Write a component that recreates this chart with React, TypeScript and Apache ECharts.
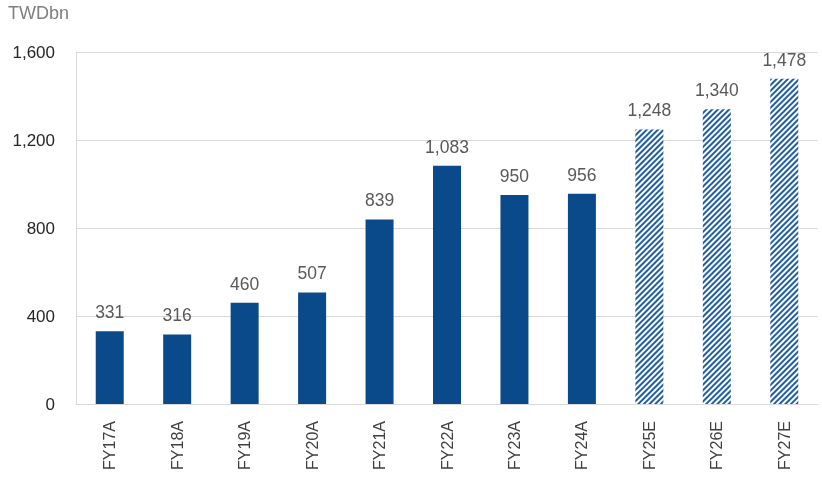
import React, { useEffect, useRef } from "react";
import * as echarts from "echarts";

const categories = ["FY17A", "FY18A", "FY19A", "FY20A", "FY21A", "FY22A", "FY23A", "FY24A", "FY25E", "FY26E", "FY27E"];
const values = [331, 316, 460, 507, 839, 1083, 950, 956, 1248, 1340, 1478];
const isEstimate = [false, false, false, false, false, false, false, false, true, true, true];
const yTicks = [0, 400, 800, 1200, 1600];
const unitLabel = "TWDbn";

const SOLID = "#0b4a8a";
const HATCH = "#1f5ea3";
const FONT = "Liberation Sans, Arial, sans-serif";

export default function App() {
  const ref = useRef<HTMLDivElement>(null);
  useEffect(() => {
    if (!ref.current) return;
    const chart = echarts.init(ref.current, undefined, { renderer: "svg" });
    const data = values.map((v, i) =>
      isEstimate[i]
        ? {
            value: v,
            itemStyle: {
              color: "#ffffff",
              decal: {
                symbol: "rect",
                symbolSize: 1,
                dashArrayX: [1, 0],
                dashArrayY: [1.5, 1.5],
                rotation: -Math.PI / 4,
                color: HATCH,
              },
            },
          }
        : { value: v, itemStyle: { color: SOLID } }
    );
    chart.setOption({
      animation: false,
      grid: { left: 76, right: 4, top: 52, bottom: 79, containLabel: false },
      graphic: [
        {
          type: "text",
          left: 8,
          top: 4,
          style: { text: unitLabel, fill: "#7f7f7f", fontSize: 18, fontFamily: FONT },
        },
      ],
      xAxis: {
        type: "category",
        data: categories,
        axisLine: { show: true, lineStyle: { color: "#d9d9d9", width: 1 } },
        axisTick: { show: false },
        axisLabel: {
          rotate: 90,
          color: "#404040",
          fontSize: 16,
          margin: 17,
          fontFamily: FONT,
        },
      },
      yAxis: {
        type: "value",
        min: yTicks[0],
        max: yTicks[yTicks.length - 1],
        interval: 400,
        axisLine: { show: true, lineStyle: { color: "#d9d9d9", width: 1 } },
        axisTick: { show: false },
        splitLine: { show: true, lineStyle: { color: "#d9d9d9", width: 1 } },
        axisLabel: {
          color: "#262626",
          fontSize: 17,
          margin: 21,
          fontFamily: FONT,
          formatter: (v: number) => v.toLocaleString("en-US"),
        },
      },
      series: [
        {
          type: "bar",
          data,
          barWidth: 28,
          label: {
            show: true,
            position: "top",
            distance: 10,
            color: "#595959",
            fontSize: 17.5,
            fontFamily: FONT,
            formatter: (p: any) => Number(p.value).toLocaleString("en-US"),
          },
        },
      ],
    });
    return () => chart.dispose();
  }, []);
  return (
    <div
      ref={ref}
      style={{ position: "fixed", left: 0, top: 0, width: 822, height: 483 }}
    />
  );
}
